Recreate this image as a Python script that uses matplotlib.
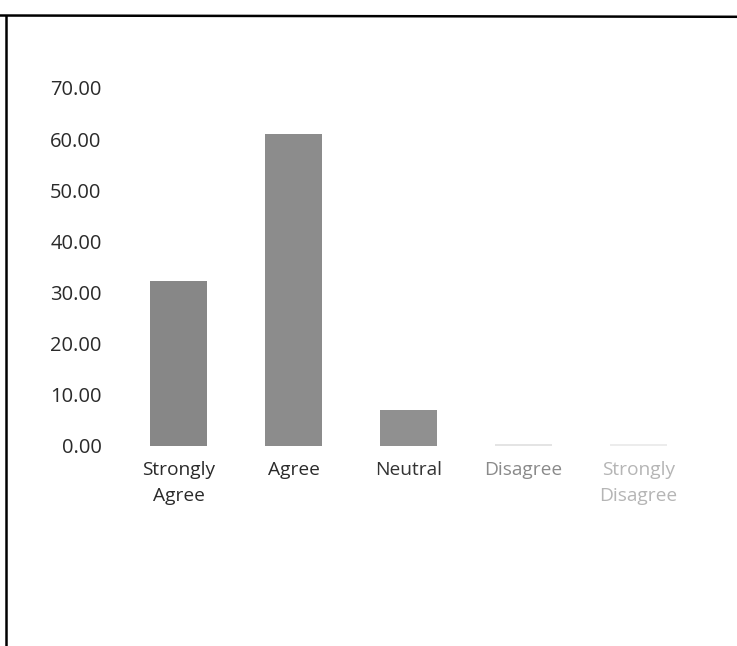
import matplotlib.pyplot as plt
from matplotlib.lines import Line2D

plt.rcParams['font.family'] = ['Open Sans', 'DejaVu Sans']

categories = ['Strongly\nAgree', 'Agree', 'Neutral', 'Disagree', 'Strongly\nDisagree']
values = [32.2, 61.0, 7.0, 0.3, 0.3]
bar_colors = ['#878787', '#8c8c8c', '#909090', '#e4e4e4', '#ececec']
label_colors = ['#2a2a2a', '#2a2a2a', '#333333', '#8a8a8a', '#b5b5b5']
yticks = [0, 10, 20, 30, 40, 50, 60, 70]

fig = plt.figure(figsize=(7.37, 6.46), dpi=100)
ax = fig.add_axes([0.1642, 0.3096, 0.7802, 0.5542])

x = range(len(categories))
ax.bar(x, values, width=0.5, color=bar_colors)

ax.set_xlim(-0.5, len(categories) - 0.5)
ax.set_ylim(0, 70)
ax.set_yticks(yticks)
ax.set_yticklabels(['%.2f' % v for v in yticks], fontsize=14.5, color='#2a2a2a')
ax.set_xticks(list(x))
ax.set_xticklabels(categories, fontsize=13.8, linespacing=1.55)
for lbl, c in zip(ax.get_xticklabels(), label_colors):
    lbl.set_color(c)
ax.tick_params(axis='both', length=0)
ax.tick_params(axis='y', pad=14)
ax.tick_params(axis='x', pad=11)
for s in ax.spines.values():
    s.set_visible(False)

# scanned page border (top and left)
fig.add_artist(Line2D([0, 1], [0.976, 0.974], transform=fig.transFigure,
                      color='black', lw=1.8))
fig.add_artist(Line2D([0.0075, 0.0075], [0.976, 0], transform=fig.transFigure,
                      color='black', lw=1.8))

fig.savefig('out.png', dpi=100, facecolor='white')
